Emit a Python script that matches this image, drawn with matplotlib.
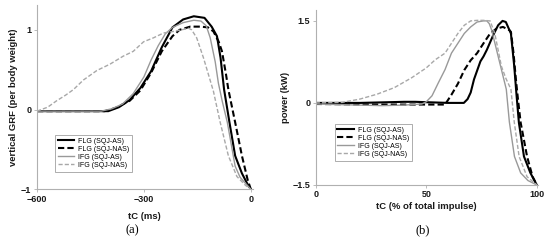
import matplotlib
matplotlib.use('Agg')
import matplotlib.pyplot as plt

plt.rcParams['font.family'] = ['Liberation Sans', 'DejaVu Sans']

# ---- panel (a): vertical GRF vs time to take-off (ms)
flg_as_t = [-600, -400, -370, -340, -310, -280, -250, -220, -190, -160, -130, -110, -95, -85, -75, -60, -44, -25, -10, 0]
flg_as_v = [-0.02, -0.02, 0.03, 0.12, 0.27, 0.48, 0.78, 1.03, 1.13, 1.17, 1.15, 1.04, 0.92, 0.65, 0.25, -0.16, -0.58, -0.80, -0.93, -1.0]

flg_nas_t = [-600, -410, -380, -340, -310, -280, -250, -220, -200, -170, -140, -120, -105, -90, -81, -70, -63, -44, -25, -9, 0]
flg_nas_v = [-0.02, -0.02, 0.02, 0.11, 0.24, 0.46, 0.73, 0.92, 1.0, 1.04, 1.04, 1.03, 0.98, 0.85, 0.73, 0.45, 0.25, -0.16, -0.58, -0.88, -1.0]

ifg_as_t = [-600, -420, -390, -360, -330, -300, -280, -260, -240, -220, -190, -160, -140, -125, -114, -100, -91, -80, -66, -44, -30, -16, 0]
ifg_as_v = [-0.02, -0.02, 0.01, 0.07, 0.2, 0.41, 0.62, 0.8, 0.95, 1.03, 1.09, 1.12, 1.11, 1.05, 0.9, 0.6, 0.33, 0.1, -0.16, -0.71, -0.85, -0.92, -1.0]

ifg_nas_t = [-600, -570, -545, -520, -498, -470, -432, -395, -358, -330, -301, -273, -245, -217, -194, -175, -166, -152, -133, -105, -86, -63, -39, -15, 0]
ifg_nas_v = [-0.02, 0.03, 0.11, 0.18, 0.25, 0.37, 0.49, 0.57, 0.67, 0.73, 0.85, 0.9, 0.96, 0.98, 1.0, 1.02, 1.0, 0.9, 0.65, 0.23, -0.16, -0.58, -0.84, -0.95, -1.0]

# ---- panel (b): power vs % of total impulse
b_flg_as_x = [0, 20, 40, 45, 60, 67, 68.7, 70.1, 71.6, 74.5, 75.9, 77.4, 80.3, 82.5, 84.5, 86, 88.3, 89.8, 90.8, 91.9, 94.2, 97.1, 100]
b_flg_as_v = [0.0, 0.0, 0.02, 0.02, 0.0, 0.0, 0.07, 0.19, 0.43, 0.76, 0.85, 0.97, 1.24, 1.42, 1.5, 1.48, 1.27, 0.67, 0.16, -0.36, -0.98, -1.28, -1.5]

b_flg_nas_x = [0, 30, 58.5, 61.4, 64.3, 67.2, 70.1, 73, 75.9, 78.9, 81.8, 84.7, 87.6, 88.3, 89.5, 90.5, 91.4, 92.7, 95.6, 98.1, 100]
b_flg_nas_v = [-0.02, -0.03, -0.03, 0.15, 0.35, 0.6, 0.78, 0.91, 1.09, 1.27, 1.36, 1.39, 1.33, 1.3, 0.9, 0.45, 0.1, -0.36, -0.98, -1.35, -1.5]

b_ifg_as_x = [0, 20, 30, 40, 48, 50, 52.6, 55.5, 58.5, 61.4, 64.3, 67.2, 70.1, 73, 75.9, 77.4, 78.5, 79.6, 81.8, 84, 86.2, 87.6, 89.9, 92.7, 96, 100]
b_ifg_as_v = [-0.02, -0.04, -0.05, -0.04, -0.02, 0.02, 0.13, 0.37, 0.61, 0.91, 1.09, 1.27, 1.39, 1.48, 1.5, 1.5, 1.45, 1.33, 0.97, 0.61, 0.25, -0.35, -0.98, -1.28, -1.42, -1.5]

b_ifg_nas_x = [0, 12, 20, 27.8, 35.6, 43.4, 50, 54.1, 58.5, 61.4, 64.3, 67.2, 70.1, 73, 75.9, 78.9, 81, 84, 86, 88.3, 89.8, 92, 95.6, 100]
b_ifg_nas_v = [0.0, 0.01, 0.07, 0.16, 0.28, 0.46, 0.64, 0.79, 0.91, 1.09, 1.27, 1.42, 1.5, 1.51, 1.51, 1.5, 1.27, 0.67, 0.45, 0.25, -0.35, -0.98, -1.35, -1.5]

labels = ['FLG (SQJ-AS)', 'FLG (SQJ-NAS)', 'IFG (SQJ-AS)', 'IFG (SQJ-NAS)']
styles = [
    dict(color='black', lw=1.5, ls='-'),
    dict(color='black', lw=1.5, ls=(0, (3, 1.5))),
    dict(color='#999999', lw=1.0, ls='-'),
    dict(color='#a8a8a8', lw=1.0, ls=(0, (3, 1.5))),
]
txt = '#1a1a1a'
axis_col = '#b0b0b0'

fig = plt.figure(figsize=(5.5, 2.43), dpi=100)
ax_a = fig.add_axes([0.0673, 0.221, 0.392, 0.758])
ax_b = fig.add_axes([0.574, 0.239, 0.404, 0.720])

series_a = [(flg_as_t, flg_as_v), (flg_nas_t, flg_nas_v), (ifg_as_t, ifg_as_v), (ifg_nas_t, ifg_nas_v)]
series_b = [(b_flg_as_x, b_flg_as_v), (b_flg_nas_x, b_flg_nas_v), (b_ifg_as_x, b_ifg_as_v), (b_ifg_nas_x, b_ifg_nas_v)]

for (x, y), st, lab in zip(series_a, styles, labels):
    ax_a.plot(x, y, label=lab, **st)
for (x, y), st, lab in zip(series_b, styles, labels):
    ax_b.plot(x, y, label=lab, **st)

lab_kw = dict(fontsize=6.8, color=txt, fontweight='bold')

ax_a.set_xlim(-600, 5)
ax_a.set_ylim(-1, 1.31)
ax_a.set_xticks([-600, -300, 0])
ax_a.set_yticks([-1, 0, 1])
ax_a.set_xlabel('tC (ms)', labelpad=6, **lab_kw)
ax_a.set_ylabel('vertical GRF (per body weight)', labelpad=2, **lab_kw)

ax_b.set_xlim(0, 100.5)
ax_b.set_ylim(-1.5, 1.7)
ax_b.set_xticks([0, 50, 100])
ax_b.set_yticks([-1.5, 0, 1.5])
ax_b.set_yticklabels(['\u22121.5', '0', '1.5'])
ax_b.set_xlabel('tC (% of total impulse)', labelpad=2, **lab_kw)
ax_b.set_ylabel('power (kW)', labelpad=2, **lab_kw)

for ax in (ax_a, ax_b):
    for s in ('top', 'right'):
        ax.spines[s].set_visible(False)
    for s in ('left', 'bottom'):
        ax.spines[s].set_color(axis_col)
        ax.spines[s].set_linewidth(0.8)
    ax.tick_params(labelsize=6.5, colors=axis_col, labelcolor=txt, length=2, width=0.6, pad=2)
    for t in ax.get_xticklabels() + ax.get_yticklabels():
        t.set_fontweight('bold')

leg_kw = dict(fontsize=5, frameon=True, fancybox=False, edgecolor='#888888', handlelength=2.4,
              borderpad=0.4, labelspacing=0.15, handletextpad=0.5, borderaxespad=0)
leg_a = ax_a.legend(loc='upper left', bbox_to_anchor=(0.083, 0.295), **leg_kw)
leg_b = ax_b.legend(loc='upper left', bbox_to_anchor=(0.085, 0.349), **leg_kw)
for leg in (leg_a, leg_b):
    leg.get_frame().set_linewidth(0.6)

fig.text(0.24, 0.053, '(a)', ha='center', va='center', family='Liberation Serif', fontsize=9)
fig.text(0.768, 0.053, '(b)', ha='center', va='center', family='Liberation Serif', fontsize=9)

fig.savefig('out.png', dpi=100)
